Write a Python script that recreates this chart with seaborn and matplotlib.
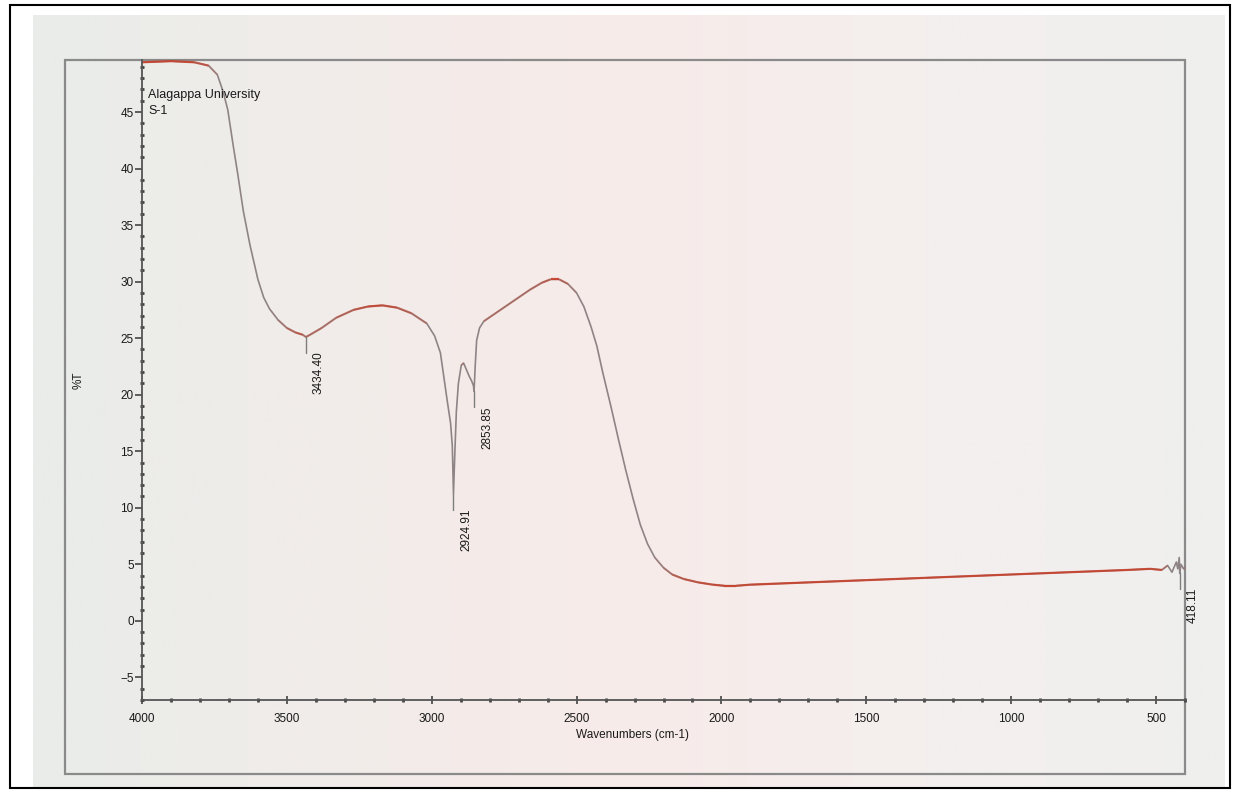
import numpy as np
import matplotlib
matplotlib.use("Agg")
import matplotlib.pyplot as plt
import seaborn as sns
from matplotlib.collections import LineCollection
from matplotlib.patches import Rectangle
from matplotlib.ticker import MultipleLocator

# spectrum (wavenumber in cm-1, %T)
wavenumber = [4000, 3900, 3820, 3770, 3740, 3720, 3704, 3685, 3670, 3650, 3627,
              3600, 3580, 3560, 3530, 3500, 3470, 3445, 3434.40, 3420, 3380,
              3330, 3270, 3220, 3170, 3120, 3070, 3017, 2990, 2970, 2955, 2945,
              2935, 2929, 2924.91, 2920, 2915, 2908, 2898, 2890, 2880, 2870,
              2862, 2856, 2853.85, 2850, 2845, 2835, 2820, 2780, 2740, 2700,
              2660, 2620, 2590, 2560, 2530, 2500, 2475, 2450, 2430, 2410, 2380,
              2355, 2330, 2305, 2280, 2255, 2230, 2200, 2170, 2130, 2080, 2030,
              1990, 1950, 1900, 1800, 1700, 1600, 1500, 1400, 1300, 1200, 1100,
              1000, 900, 800, 700, 600, 520, 480, 460, 445, 430, 425, 420,
              418.11, 414, 405, 400]
transmittance = [49.4, 49.5, 49.4, 49.1, 48.3, 46.8, 45.2, 42.0, 39.6, 36.2, 33.2,
                 30.2, 28.6, 27.6, 26.6, 25.9, 25.5, 25.3, 25.1, 25.3, 25.9,
                 26.8, 27.5, 27.8, 27.9, 27.7, 27.2, 26.3, 25.2, 23.7, 21.0, 19.2,
                 17.5, 15.5, 11.2, 15.0, 18.5, 21.0, 22.6, 22.8, 22.2, 21.6,
                 21.2, 20.8, 20.3, 22.5, 24.8, 25.9, 26.5, 27.2, 27.9, 28.6,
                 29.3, 29.9, 30.2, 30.2, 29.8, 29.0, 27.8, 26.0, 24.3, 22.0, 18.8,
                 16.0, 13.3, 10.8, 8.5, 6.8, 5.6, 4.7, 4.1, 3.7, 3.4, 3.2,
                 3.1, 3.1, 3.2, 3.3, 3.4, 3.5, 3.6, 3.7, 3.8, 3.9, 4.0,
                 4.1, 4.2, 4.3, 4.4, 4.5, 4.6, 4.5, 4.9, 4.3, 5.2, 4.6, 5.6,
                 4.2, 5.0, 4.6, 4.7]

peak_wn = [3434.40, 2924.91, 2853.85, 418.11]
peak_labels = ["3434.40", "2924.91", "2853.85", "418.11"]

W, H = 1235, 791
sns.set_theme(style="ticks")
plt.rcParams["font.family"] = ["Liberation Sans", "DejaVu Sans"]

fig = plt.figure(figsize=(W / 100, H / 100), dpi=100)
fig.patch.set_facecolor("white")

# photo / paper background
bg = fig.add_axes([0, 0, 1, 1], zorder=-10)
bg.set_xlim(0, W)
bg.set_ylim(H, 0)
bg.axis("off")
stops = np.array([0.0, 0.3, 0.5, 0.75, 1.0])
cols = np.array([[233, 236, 234], [243, 236, 233], [247, 235, 233],
                 [244, 239, 238], [239, 239, 239]]) / 255
gx = np.linspace(0, 1, 400)
grad = np.stack([np.interp(gx, stops, cols[:, i]) for i in range(3)], axis=-1)
bg.imshow(grad[None, :, :], extent=[33, 1225, 787, 15], aspect="auto")
bg.add_patch(Rectangle((10, 5), 1220, 783, fill=False, ec="black", lw=1.5))
bg.add_patch(Rectangle((65, 60), 1120, 714, fill=False, ec="#8a8a8a", lw=1.6))

# main plot
left, right, top, bottom = 142, 1185, 60, 700
ax = fig.add_axes([left / W, (H - bottom) / H, (right - left) / W, (bottom - top) / H])
ax.set_facecolor("none")

sns.lineplot(x=wavenumber, y=transmittance, ax=ax, sort=False,
             color="#8e8486", lw=1.2, estimator=None)

# red ink shows where the trace is flat
ax.set_xlim(4000, 400)
ax.set_ylim(-7, 49.6)
wn = np.array(wavenumber)
tr = np.array(transmittance)
pts = np.column_stack([wn, tr]).reshape(-1, 1, 2)
segs = np.concatenate([pts[:-1], pts[1:]], axis=1)
dxp = np.abs(np.diff(wn)) * (right - left) / 3600
dyp = np.abs(np.diff(tr)) * (bottom - top) / 56.6
ang = np.degrees(np.arctan2(dyp, dxp))
alpha = np.clip(1 - ang / 55, 0, 1) * 0.85
rgba = np.zeros((len(segs), 4))
rgba[:, :3] = matplotlib.colors.to_rgb("#cc3a22")
rgba[:, 3] = alpha
ax.add_collection(LineCollection(segs, colors=rgba, linewidths=1.6))

# peak labels
for p, lab in zip(peak_wn, peak_labels):
    yv = transmittance[wavenumber.index(p)]
    ax.plot([p, p], [yv, yv - 1.4], color="#7d7d7d", lw=1.0, clip_on=False)
    ax.annotate(lab, xy=(p, yv - 1.3), xytext=(5, 0), textcoords="offset points",
                rotation=90, ha="left", va="top", fontsize=8.5, color="#1a1a1a",
                annotation_clip=False)

ax.text(0.006, 0.945, "Alagappa University", transform=ax.transAxes,
        fontsize=9, color="#1a1a1a", va="center")
ax.text(0.006, 0.921, "S-1", transform=ax.transAxes,
        fontsize=9, color="#1a1a1a", va="center")

ax.xaxis.set_major_locator(MultipleLocator(500))
ax.xaxis.set_minor_locator(MultipleLocator(100))
ax.yaxis.set_major_locator(MultipleLocator(5))
ax.yaxis.set_minor_locator(MultipleLocator(1))
ax.set_xticks([4000, 3500, 3000, 2500, 2000, 1500, 1000, 500])
ax.set_yticks([-5, 0, 5, 10, 15, 20, 25, 30, 35, 40, 45])

ax.tick_params(axis="y", which="major", direction="out", length=5, width=1.2,
               labelsize=8.5, pad=1, colors="#444", labelcolor="#1a1a1a")
ax.tick_params(axis="x", which="major", direction="inout", length=6, width=1.2,
               labelsize=8.5, pad=6, colors="#444", labelcolor="#1a1a1a")
ax.tick_params(which="minor", direction="inout", length=2.5, width=2, colors="#444")

for s in ["top", "right"]:
    ax.spines[s].set_visible(False)
for s in ["left", "bottom"]:
    ax.spines[s].set_color("#555")
    ax.spines[s].set_linewidth(1.3)

ax.set_xlabel("Wavenumbers (cm-1)", fontsize=8.5, color="#1a1a1a")
ax.xaxis.set_label_coords(0.47, -0.045)
ax.set_ylabel("%T", fontsize=8.5, color="#1a1a1a")
ax.yaxis.set_label_coords(-0.055, 0.5)

fig.savefig("out.png", dpi=100)
